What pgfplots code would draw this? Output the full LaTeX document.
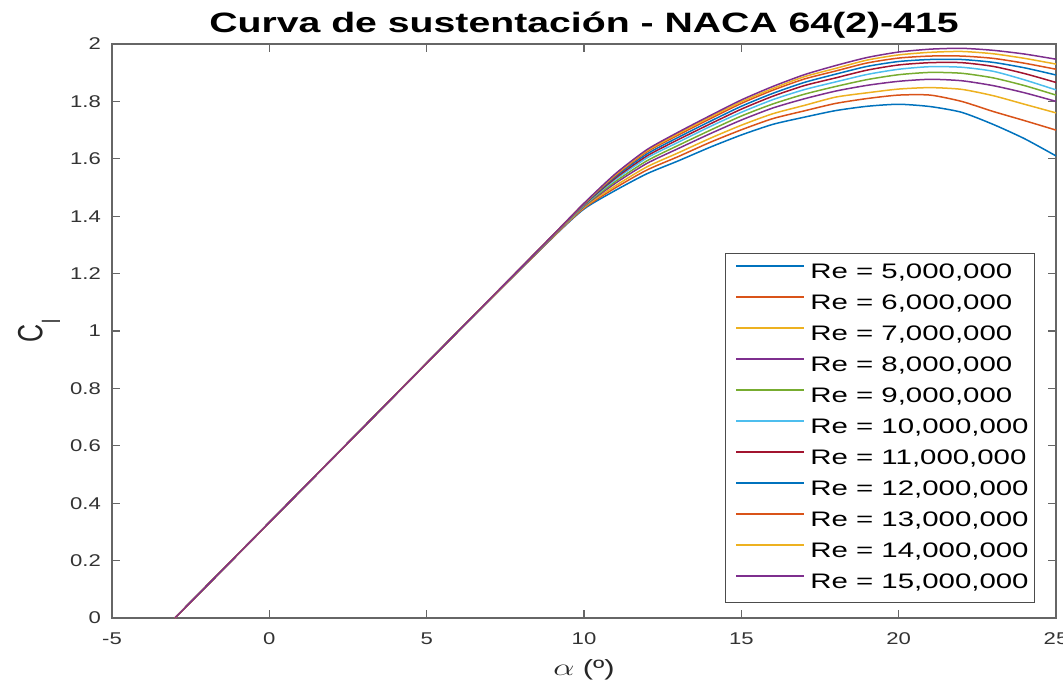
\documentclass[border=0pt]{standalone}
\usepackage{fontspec}
\setmainfont{Liberation Sans}
\usepackage{graphicx}
\usepackage{pgfplots}
\usepackage{pgfplotstable}
\pgfplotsset{compat=1.18}

% MATLAB default line colours
\definecolor{m1}{rgb}{0,0.447,0.741}
\definecolor{m2}{rgb}{0.850,0.325,0.098}
\definecolor{m3}{rgb}{0.929,0.694,0.125}
\definecolor{m4}{rgb}{0.494,0.184,0.556}
\definecolor{m5}{rgb}{0.466,0.674,0.188}
\definecolor{m6}{rgb}{0.301,0.745,0.933}
\definecolor{m7}{rgb}{0.635,0.078,0.184}

% the reference is stretched sideways
\newcommand{\sx}[1]{\scalebox{1.4}[1]{#1}}
\newcommand{\tx}[1]{\scalebox{1.3}[1]{#1}}

% alpha (deg) vs Cl for Re = 5e6 ... 15e6
\pgfplotstableread{
a  r5    r6    r7    r8    r9    r10   r11   r12   r13   r14   r15
-3 0     0     0     0     0     0     0     0     0     0     0
0  0.333 0.333 0.333 0.333 0.333 0.333 0.333 0.333 0.333 0.333 0.333
3  0.666 0.666 0.666 0.666 0.666 0.666 0.666 0.666 0.666 0.666 0.666
6  0.999 0.999 0.999 0.999 0.999 0.999 0.999 0.999 0.999 0.999 0.999
9  1.325 1.326 1.327 1.328 1.329 1.330 1.331 1.332 1.332 1.333 1.333
10 1.425 1.428 1.431 1.434 1.436 1.438 1.440 1.441 1.443 1.444 1.445
11 1.490 1.499 1.506 1.515 1.521 1.528 1.533 1.538 1.542 1.545 1.548
12 1.548 1.561 1.572 1.584 1.593 1.603 1.610 1.617 1.624 1.628 1.632
13 1.593 1.608 1.621 1.636 1.647 1.658 1.667 1.675 1.683 1.688 1.693
14 1.640 1.657 1.671 1.687 1.699 1.712 1.721 1.730 1.739 1.745 1.750
15 1.683 1.701 1.717 1.735 1.749 1.762 1.773 1.783 1.793 1.799 1.805
16 1.720 1.740 1.757 1.777 1.791 1.806 1.818 1.828 1.839 1.845 1.852
17 1.745 1.767 1.786 1.809 1.825 1.841 1.855 1.866 1.878 1.886 1.893
18 1.768 1.793 1.815 1.836 1.852 1.868 1.882 1.895 1.906 1.915 1.925
19 1.783 1.810 1.830 1.856 1.876 1.894 1.909 1.922 1.934 1.944 1.953
20 1.790 1.822 1.843 1.870 1.893 1.912 1.927 1.939 1.951 1.962 1.972
21 1.782 1.822 1.848 1.877 1.901 1.921 1.935 1.946 1.958 1.971 1.982
22 1.762 1.800 1.842 1.872 1.898 1.919 1.935 1.946 1.958 1.974 1.985
23 1.720 1.765 1.820 1.855 1.882 1.905 1.922 1.936 1.950 1.966 1.978
24 1.670 1.733 1.790 1.830 1.855 1.875 1.897 1.917 1.933 1.950 1.965
25 1.610 1.700 1.760 1.800 1.822 1.840 1.866 1.892 1.912 1.930 1.947
}\cl

\begin{document}
\begin{tikzpicture}
\begin{axis}[
  scale only axis,
  width=472pt, height=287pt,
  xmin=-5, xmax=25, ymin=0, ymax=2,
  xtick={-5,0,5,10,15,20,25},
  xticklabels={\tx{-5},\tx{0},\tx{5},\tx{10},\tx{15},\tx{20},\tx{25}},
  ytick={0,0.2,0.4,0.6,0.8,1,1.2,1.4,1.6,1.8,2},
  yticklabels={\tx{0},\tx{0.2},\tx{0.4},\tx{0.6},\tx{0.8},\tx{1},\tx{1.2},\tx{1.4},\tx{1.6},\tx{1.8},\tx{2}},
  axis line style={black!60, line width=0.6pt},
  every tick/.style={black!60, line width=0.6pt},
  major tick length=4pt,
  tick label style={font=\fontsize{8.5}{10}\selectfont, text=black!80},
  yticklabel style={xshift=-2pt},
  xticklabel style={yshift=-4pt},
  title={\sx{\bfseries Curva de sustentación - NACA 64(2)-415}},
  every axis title/.style={font=\fontsize{14}{16}\selectfont,
    at={(axis description cs:0.5,1.0192)}, anchor=base},
  xlabel={\sx{{\fontsize{12}{13}\selectfont$\alpha$} (º)}},
  xlabel style={font=\fontsize{11}{12}\selectfont, text=black!85, at={(axis description cs:0.5,-0.0993)}, anchor=base},
  ylabel={\scalebox{1}[1.4]{C\raisebox{-6.3pt}{\fontsize{9}{9}\selectfont l}}},
  ylabel style={font=\fontsize{12.5}{14}\selectfont, text=black!85, at={(axis description cs:-0.0773,0.5)}, anchor=center},
  legend style={at={(rel axis cs:0.978,0.026)}, anchor=south east,
    draw=black!70, line width=0.6pt, fill=white,
    font=\fontsize{10.5}{12}\selectfont, inner sep=2pt, row sep=0pt,
    nodes={inner sep=1pt, text height=9.5pt, text depth=4pt}},
  legend cell align=left,
  legend image code/.code={\path[draw=none] (-1.5pt,0pt) rectangle (38pt,0pt);
    \draw[#1, line width=0.75pt] (2pt,3.6pt) -- (36pt,3.6pt);},
  every axis plot/.append style={line width=0.75pt, line join=round, smooth, tension=0.4},
]
\addplot[m1] table[x=a, y=r5]  {\cl}; \addlegendentry{\sx{Re = 5,000,000}}
\addplot[m2] table[x=a, y=r6]  {\cl}; \addlegendentry{\sx{Re = 6,000,000}}
\addplot[m3] table[x=a, y=r7]  {\cl}; \addlegendentry{\sx{Re = 7,000,000}}
\addplot[m4] table[x=a, y=r8]  {\cl}; \addlegendentry{\sx{Re = 8,000,000}}
\addplot[m5] table[x=a, y=r9]  {\cl}; \addlegendentry{\sx{Re = 9,000,000}}
\addplot[m6] table[x=a, y=r10] {\cl}; \addlegendentry{\sx{Re = 10,000,000}}
\addplot[m7] table[x=a, y=r11] {\cl}; \addlegendentry{\sx{Re = 11,000,000}}
\addplot[m1] table[x=a, y=r12] {\cl}; \addlegendentry{\sx{Re = 12,000,000}}
\addplot[m2] table[x=a, y=r13] {\cl}; \addlegendentry{\sx{Re = 13,000,000}}
\addplot[m3] table[x=a, y=r14] {\cl}; \addlegendentry{\sx{Re = 14,000,000}}
\addplot[m4] table[x=a, y=r15] {\cl}; \addlegendentry{\sx{Re = 15,000,000}}
\coordinate (SW) at (rel axis cs:0,0);
\coordinate (NE) at (rel axis cs:1,1);
\end{axis}
% crop to the reference's frame (its "25" is cut at the right edge)
\pgfresetboundingbox
\path[use as bounding box] ([shift={(-56pt,-31pt)}]SW) rectangle ([shift={(3.5pt,22pt)}]NE);
\end{tikzpicture}
\end{document}
